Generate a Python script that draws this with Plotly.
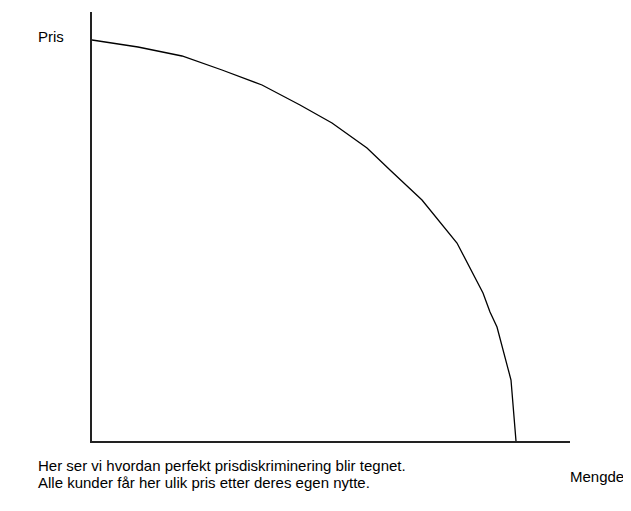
import plotly.graph_objects as go

# Demand curve (arbitrary units)
mengde = [0, 46, 90, 130, 170, 208, 240, 275, 298, 330, 365, 391, 398, 405, 419, 424]
pris = [401, 394, 385, 371, 356, 336, 318, 293, 271, 241, 198, 148, 129, 114, 61, 0]

y_label = "Pris"
x_label = "Mengde"
caption_lines = ["Her ser vi hvordan perfekt prisdiskriminering blir tegnet.",
                 "Alle kunder får her ulik pris etter deres egen nytte."]

fig = go.Figure()
fig.add_trace(go.Scatter(x=mengde, y=pris, mode="lines",
                         line=dict(color="#000000", width=1.3),
                         hoverinfo="skip", showlegend=False))

font = dict(family="Liberation Sans, Arial, sans-serif", size=15, color="#000000")

fig.update_layout(
    width=615, height=495,
    margin=dict(l=84, r=53, t=4, b=62),
    paper_bgcolor="white", plot_bgcolor="white",
    xaxis=dict(range=[0, 478], showgrid=False, zeroline=False, showticklabels=False,
               ticks="", showline=True, linecolor="#222222", linewidth=1.5, fixedrange=True),
    yaxis=dict(range=[0, 429], showgrid=False, zeroline=False, showticklabels=False,
               ticks="", showline=True, linecolor="#222222", linewidth=1.5, fixedrange=True),
    annotations=[
        dict(text=y_label, xref="paper", yref="paper", x=-0.117, y=0.944,
             xanchor="left", yanchor="middle", showarrow=False, font=font),
        dict(text=caption_lines[0], xref="paper", yref="paper", x=-0.117, y=-0.056,
             xanchor="left", yanchor="middle", showarrow=False, font=font),
        dict(text=caption_lines[1], xref="paper", yref="paper", x=-0.117, y=-0.096,
             xanchor="left", yanchor="middle", showarrow=False, font=font),
        dict(text=x_label, xref="paper", yref="paper", x=0.996, y=-0.082,
             xanchor="left", yanchor="middle", showarrow=False, font=font),
    ],
)

fig.write_html("out.html")
